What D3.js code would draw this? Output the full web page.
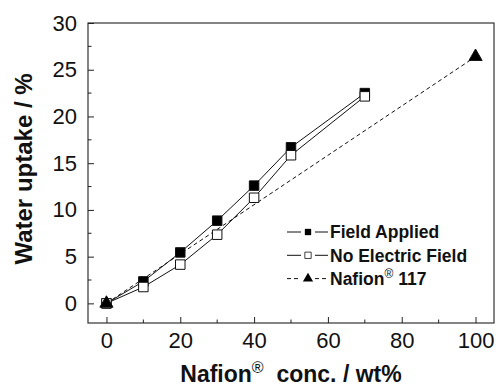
<!DOCTYPE html>
<html>
<head>
<meta charset="utf-8">
<script src="https://cdn.jsdelivr.net/npm/d3@7"></script>
<style>
  body { margin: 0; background: #fff; }
  text { font-family: "Liberation Sans", Arial, sans-serif; }
</style>
</head>
<body>
<div id="chart"></div>
<script>
const width = 496;
const height = 387;
const margin = { top: 23, right: 2, bottom: 64, left: 88 };

// data
const fieldX = [0, 10, 20, 30, 40, 50, 70];
const fieldY = [0, 2.35, 5.45, 8.85, 12.6, 16.7, 22.5];
const noFieldX = [0, 10, 20, 30, 40, 50, 70];
const noFieldY = [0, 1.75, 4.15, 7.35, 11.3, 15.85, 22.15];
const nafionX = [0, 100];
const nafionY = [0, 26.4];
const xTicks = [0, 20, 40, 60, 80, 100];
const yTicks = [0, 5, 10, 15, 20, 25, 30];

const innerW = width - margin.left - margin.right;
const innerH = height - margin.top - margin.bottom;

const svg = d3.select("#chart")
    .append("svg")
    .attr("width", width)
    .attr("height", height)
  .append("g")
    .attr("transform", `translate(${margin.left},${margin.top})`);

const x = d3.scaleLinear().domain([-5, 105]).range([0, innerW]);
const y = d3.scaleLinear().domain([-2.1, 30]).range([innerH, 0]);

// frame
svg.append("rect")
    .attr("width", innerW)
    .attr("height", innerH)
    .attr("fill", "none")
    .attr("stroke", "#333")
    .attr("stroke-width", 1.2);

// x axis, ticks pointing inward
const xAxis = svg.append("g")
    .attr("transform", `translate(0,${innerH})`);
xAxis.call(d3.axisBottom(x).tickValues(xTicks).tickSize(-6).tickPadding(9))
    .call(g => g.select(".domain").remove());
xAxis.selectAll(".tick line").attr("stroke", "#222");
xAxis.selectAll(".tick text").attr("font-size", 22).attr("fill", "#111");
xAxis.selectAll(".minor")
    .data(d3.range(10, 101, 20))
  .enter().append("line")
    .attr("x1", d => x(d)).attr("x2", d => x(d))
    .attr("y1", 0).attr("y2", -3.5)
    .attr("stroke", "#222");

// y axis
const yAxis = svg.append("g");
yAxis.call(d3.axisLeft(y).tickValues(yTicks).tickSize(-6).tickPadding(11))
    .call(g => g.select(".domain").remove());
yAxis.selectAll(".tick line").attr("stroke", "#222");
yAxis.selectAll(".tick text").attr("font-size", 22).attr("fill", "#111");
yAxis.selectAll(".minor")
    .data(d3.range(2.5, 30, 5))
  .enter().append("line")
    .attr("y1", d => y(d)).attr("y2", d => y(d))
    .attr("x1", 0).attr("x2", 3.5)
    .attr("stroke", "#222");

// axis titles
const xTitle = svg.append("text")
    .attr("x", innerW / 2)
    .attr("y", 382 - margin.top)
    .attr("text-anchor", "middle")
    .attr("font-size", 23)
    .attr("font-weight", "bold")
    .attr("fill", "#111");
xTitle.append("tspan").text("Nafion");
xTitle.append("tspan").attr("dy", -9).attr("font-size", 16).attr("font-weight", "normal").text("®");
xTitle.append("tspan").attr("dy", 9).text("\u00a0 conc. / wt%");

svg.append("text")
    .attr("transform", `translate(${24 - margin.left},${169 - margin.top}) rotate(-90)`)
    .attr("text-anchor", "middle")
    .attr("dy", "0.35em")
    .attr("font-size", 24)
    .attr("font-weight", "bold")
    .attr("fill", "#111")
    .text("Water uptake / %");

// series
const series = [
  { name: "Field Applied", xs: fieldX, ys: fieldY, shape: d3.symbolSquare, fill: "#000", dash: null },
  { name: "No Electric Field", xs: noFieldX, ys: noFieldY, shape: d3.symbolSquare, fill: "#fff", dash: null },
  { name: "Nafion 117", xs: nafionX, ys: nafionY, shape: d3.symbolTriangle, fill: "#000", dash: "4,3" }
];

const line = d3.line().x(d => x(d[0])).y(d => y(d[1]));

series.forEach(s => {
  const pts = s.xs.map((v, i) => [v, s.ys[i]]);
  svg.append("path")
      .datum(pts)
      .attr("d", line)
      .attr("fill", "none")
      .attr("stroke", "#111")
      .attr("stroke-width", 1)
      .attr("stroke-dasharray", s.dash);
});

// markers drawn after lines
series.forEach(s => {
  const size = s.shape === d3.symbolTriangle ? 75 : 90;
  svg.selectAll(null)
      .data(s.xs.map((v, i) => [v, s.ys[i]]))
    .enter().append("path")
      .attr("d", d3.symbol().type(s.shape).size(size))
      .attr("transform", d => `translate(${x(d[0])},${y(d[1])})`)
      .attr("fill", s.fill)
      .attr("stroke", "#111")
      .attr("stroke-width", 1);
});

// legend
const legend = svg.append("g")
    .attr("transform", `translate(${287 - margin.left},${232 - margin.top})`);

series.forEach((s, i) => {
  const g = legend.append("g").attr("transform", `translate(0,${i * 23.3})`);
  g.append("line")
      .attr("x1", 0).attr("x2", 41)
      .attr("stroke", "#111")
      .attr("stroke-dasharray", s.dash);
  g.append("rect")
      .attr("x", 14).attr("y", -6).attr("width", 14).attr("height", 12)
      .attr("fill", "#fff");
  const sz = s.shape === d3.symbolTriangle ? 45 : 40;
  g.append("path")
      .attr("d", d3.symbol().type(s.shape).size(sz))
      .attr("transform", "translate(21,0)")
      .attr("fill", s.fill)
      .attr("stroke", "#111")
      .attr("stroke-width", s.fill === "#fff" ? 0.8 : 0);
  const t = g.append("text")
      .attr("x", 43)
      .attr("dy", "0.36em")
      .attr("font-size", 17.5)
      .attr("font-weight", "bold")
      .attr("fill", "#111");
  if (s.name === "Nafion 117") {
    t.append("tspan").text("Nafion");
    t.append("tspan").attr("dy", -7).attr("font-size", 12).attr("font-weight", "normal").text("®");
    t.append("tspan").attr("dy", 7).text(" 117");
  } else {
    t.text(s.name);
  }
});
</script>
</body>
</html>
